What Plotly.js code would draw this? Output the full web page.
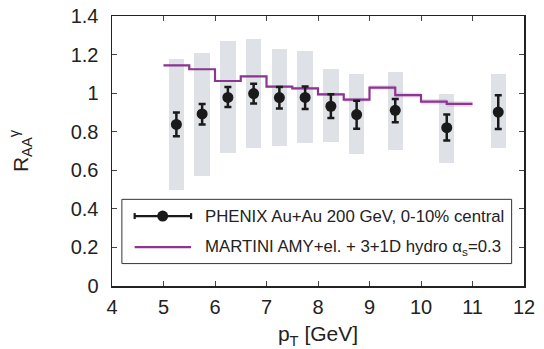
<!DOCTYPE html>
<html>
<head>
<meta charset="utf-8">
<script src="https://cdn.plot.ly/plotly-3.0.1.min.js"></script>
<style>html,body{margin:0;padding:0;background:#fff}#plot{width:544px;height:349px}</style>
</head>
<body>
<div id="plot"></div>
<script>
// PHENIX data
const ptData   = [5.25, 5.75, 6.25, 6.75, 7.25, 7.75, 8.25, 8.75, 9.5, 10.5, 11.5];
const raaData  = [0.838, 0.892, 0.978, 0.998, 0.977, 0.978, 0.932, 0.889, 0.911, 0.821, 0.902];
const statUp   = [0.899, 0.944, 1.032, 1.049, 1.032, 1.035, 0.994, 0.961, 0.970, 0.889, 0.989];
const statLo   = [0.776, 0.837, 0.928, 0.946, 0.921, 0.918, 0.871, 0.816, 0.849, 0.754, 0.814];
const sysUp    = [1.179, 1.208, 1.269, 1.279, 1.231, 1.217, 1.124, 1.098, 1.108, 0.998, 1.098];
const sysLo    = [0.496, 0.570, 0.688, 0.716, 0.726, 0.741, 0.747, 0.684, 0.705, 0.638, 0.716];
// MARTINI step curve (bin edges, bin values, band half-width)
const binEdges = [5.0, 5.5, 6.0, 6.5, 7.0, 7.5, 8.0, 8.5, 9.0, 9.5, 10.0, 10.5, 11.0];
const martini  = [1.144, 1.124, 1.063, 1.087, 1.034, 1.025, 0.994, 0.966, 1.029, 0.990, 0.956, 0.944];
const band     = [0.004, 0.004, 0.005, 0.005, 0.006, 0.008, 0.008, 0.010, 0.012, 0.012, 0.014, 0.014];
const xTicks   = [4, 5, 6, 7, 8, 9, 10, 11, 12];
const yTicks   = [0, 0.2, 0.4, 0.6, 0.8, 1, 1.2, 1.4];
const legendLabels = ["PHENIX Au+Au 200 GeV, 0-10% central", "MARTINI AMY+el. + 3+1D hydro α<sub>s</sub>=0.3"];

const stepY = martini.concat([martini[martini.length - 1]]);
const bandHi = martini.map((v, i) => v + band[i]); bandHi.push(bandHi[bandHi.length - 1]);
const bandLo = martini.map((v, i) => v - band[i]); bandLo.push(bandLo[bandLo.length - 1]);

const purple = '#8c3592';
const traces = [
  {type: 'bar', x: ptData, base: sysLo, y: sysUp.map((v, i) => v - sysLo[i]), width: 0.3,
   marker: {color: '#dee1e5', line: {width: 0}}, hoverinfo: 'skip', showlegend: false},
  {type: 'scatter', mode: 'lines', x: binEdges, y: bandLo, line: {shape: 'hv', width: 0, color: 'rgba(0,0,0,0)'},
   showlegend: false, hoverinfo: 'skip'},
  {type: 'scatter', mode: 'lines', x: binEdges, y: bandHi, line: {shape: 'hv', width: 0, color: 'rgba(0,0,0,0)'},
   fill: 'tonexty', fillcolor: 'rgba(200,150,200,0.35)', showlegend: false, hoverinfo: 'skip'},
  {type: 'scatter', mode: 'lines', x: binEdges, y: stepY, line: {shape: 'hv', width: 2.2, color: purple}, showlegend: false},
  {type: 'scatter', mode: 'markers', x: ptData, y: raaData,
   error_y: {type: 'data', symmetric: false, array: statUp.map((v, i) => v - raaData[i]),
             arrayminus: raaData.map((v, i) => v - statLo[i]), color: '#1a1a1a', thickness: 2.5, width: 3.5},
   marker: {color: '#1a1a1a', size: 11}, showlegend: false}
];

const tickFont = {family: 'Liberation Sans, Arial, sans-serif', size: 20, color: '#222'};
const layout = {
  width: 544, height: 349,
  margin: {l: 112, r: 20, t: 16, b: 63},
  paper_bgcolor: '#fff', plot_bgcolor: '#fff',
  bargap: 0,
  showlegend: false,
  font: {family: 'Liberation Sans, Arial, sans-serif', color: '#222'},
  xaxis: {range: [4, 12], tickvals: xTicks, ticktext: xTicks.map(String), ticks: 'inside', ticklen: 5, tickwidth: 1,
          tickcolor: '#444', showline: true, linecolor: '#222', linewidth: 1.5, mirror: 'ticks', showgrid: false,
          zeroline: false, tickfont: tickFont, ticklabelstandoff: 2,
          title: {text: 'p<sub>T</sub> [GeV]', font: {size: 21}, standoff: 10}},
  yaxis: {range: [0, 1.4], tickvals: yTicks, ticktext: yTicks.map(String), ticks: 'inside', ticklen: 5, tickwidth: 1,
          tickcolor: '#444', showline: true, linecolor: '#222', linewidth: 1.5, mirror: 'ticks', showgrid: false,
          zeroline: false, tickfont: tickFont, ticklabelstandoff: 8,
          title: {text: 'R<sub>AA</sub><sup>γ</sup>', font: {size: 21}, standoff: 36}},
  shapes: [
    {type: 'rect', xref: 'paper', yref: 'paper', x0: 0.024, x1: 0.970, y0: 0.083, y1: 0.321,
     line: {color: '#333', width: 1}, fillcolor: '#fff', layer: 'above'},
    {type: 'line', xref: 'paper', yref: 'paper', x0: 0.055, x1: 0.192, y0: 0.259, y1: 0.259,
     line: {color: '#1a1a1a', width: 2.2}, layer: 'above'},
    {type: 'line', xref: 'paper', yref: 'paper', x0: 0.055, x1: 0.055, y0: 0.248, y1: 0.270,
     line: {color: '#1a1a1a', width: 2.2}, layer: 'above'},
    {type: 'line', xref: 'paper', yref: 'paper', x0: 0.192, x1: 0.192, y0: 0.248, y1: 0.270,
     line: {color: '#1a1a1a', width: 2.2}, layer: 'above'},
    {type: 'circle', xref: 'paper', yref: 'paper', xsizemode: 'pixel', ysizemode: 'pixel',
     xanchor: 0.123, yanchor: 0.259, x0: -5.5, x1: 5.5, y0: -5.5, y1: 5.5,
     fillcolor: '#1a1a1a', line: {color: '#1a1a1a', width: 0}, layer: 'above'},
    {type: 'line', xref: 'paper', yref: 'paper', x0: 0.055, x1: 0.192, y0: 0.144, y1: 0.144,
     line: {color: purple, width: 2.2}, layer: 'above'}
  ],
  annotations: [
    {xref: 'paper', yref: 'paper', x: 0.222, y: 0.259, xanchor: 'left', yanchor: 'middle', showarrow: false,
     text: legendLabels[0], font: {size: 16.8, color: '#222'}},
    {xref: 'paper', yref: 'paper', x: 0.222, y: 0.144, xanchor: 'left', yanchor: 'middle', showarrow: false,
     text: legendLabels[1], font: {size: 16.8, color: '#222'}}
  ]
};
Plotly.newPlot('plot', traces, layout, {displayModeBar: false, staticPlot: true});
</script>
</body>
</html>
